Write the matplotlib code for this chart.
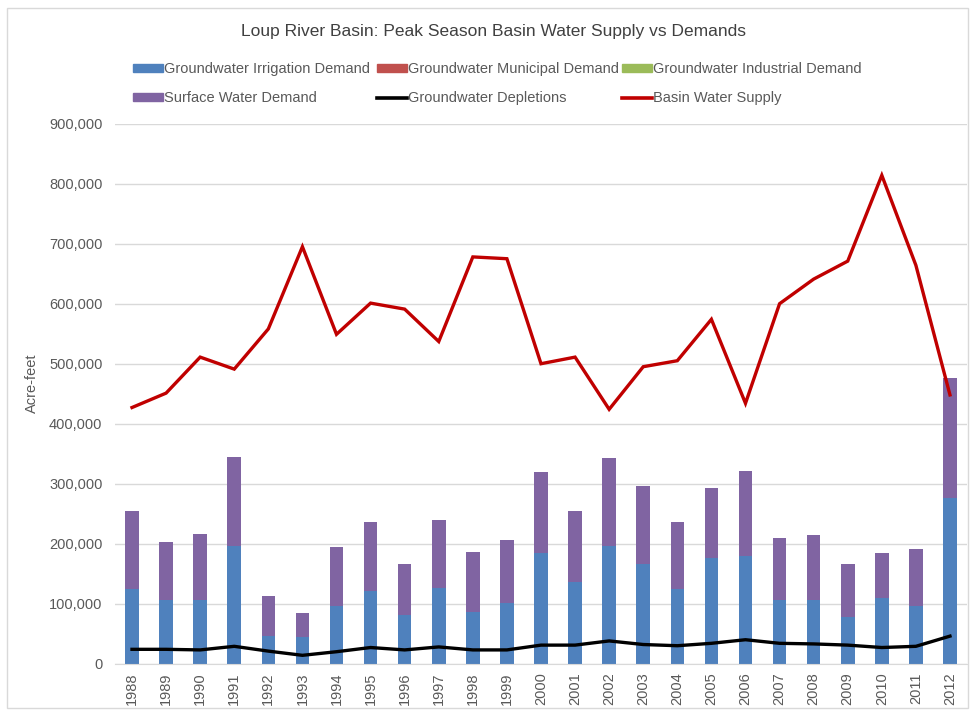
import matplotlib
matplotlib.use("Agg")
import matplotlib.pyplot as plt
from matplotlib.patches import Patch, Rectangle
from matplotlib.lines import Line2D
from matplotlib.ticker import FuncFormatter
import numpy as np

plt.rcParams["font.family"] = ["Liberation Sans", "DejaVu Sans"]

years = list(range(1988, 2013))
gw_irrigation = [124000, 106000, 106000, 196000, 47000, 45000, 97000, 122000, 81000, 127000,
                 86000, 102000, 184000, 136000, 196000, 166000, 124000, 176000, 180000, 106000,
                 106000, 78000, 109000, 96000, 277000]
gw_municipal = [0] * 25
gw_industrial = [0] * 25
surface_total = [255000, 203000, 216000, 344000, 113000, 84000, 194000, 236000, 166000, 240000,
                 186000, 207000, 319000, 255000, 343000, 297000, 237000, 293000, 322000, 210000,
                 215000, 167000, 184000, 192000, 476000]
gw_depletions = [24000, 24000, 23000, 29000, 21000, 14000, 20000, 27000, 23000, 28000,
                 23000, 23000, 31000, 31000, 38000, 32000, 30000, 34000, 40000, 34000,
                 33000, 31000, 27000, 29000, 46000]
basin_supply = [427000, 451000, 511000, 491000, 558000, 695000, 549000, 601000, 591000, 537000,
                678000, 675000, 500000, 511000, 424000, 495000, 505000, 574000, 434000, 600000,
                641000, 671000, 814000, 664000, 448000]

BLUE, RED, GREEN, PURPLE = "#4f81bd", "#c0504d", "#9bbb59", "#8064a2"
SUPPLY, TXT, GRID = "#c00000", "#595959", "#d9d9d9"

x = np.arange(len(years))
surface = np.array(surface_total) - np.array(gw_irrigation)

fig = plt.figure(figsize=(9.71, 7.11), dpi=100)
fig.patches.append(Rectangle((0.007, 0.004), 0.99, 0.985, transform=fig.transFigure,
                             fill=False, edgecolor="#d9d9d9", linewidth=1.0))
ax = fig.add_axes([0.1184, 0.0665, 0.8775, 0.7595])

w = 0.4
b1 = np.array(gw_irrigation)
b2 = b1 + np.array(gw_municipal)
b3 = b2 + np.array(gw_industrial)
ax.bar(x, gw_irrigation, w, color=BLUE, zorder=2)
ax.bar(x, gw_municipal, w, bottom=b1, color=RED, zorder=2)
ax.bar(x, gw_industrial, w, bottom=b2, color=GREEN, zorder=2)
ax.bar(x, surface, w, bottom=b3, color=PURPLE, zorder=2)
ax.plot(x, gw_depletions, color="black", lw=2.4, zorder=3, solid_joinstyle="round")
ax.plot(x, basin_supply, color=SUPPLY, lw=2.4, zorder=3, solid_joinstyle="miter")

ax.set_xlim(-0.5, len(years) - 0.5)
ax.set_ylim(0, 900000)
ax.set_yticks(np.arange(0, 900001, 100000))
ax.yaxis.set_major_formatter(FuncFormatter(lambda v, p: f"{int(v):,}"))
ax.set_xticks(x)
ax.set_xticklabels([str(y) for y in years], rotation=90)
ax.tick_params(axis="both", length=0, colors=TXT, labelsize=10.5)
ax.tick_params(axis="y", pad=9)
ax.tick_params(axis="x", pad=6)
ax.grid(axis="y", color=GRID, lw=1.0, zorder=0)
ax.set_axisbelow(True)
for s in ["top", "right", "left"]:
    ax.spines[s].set_visible(False)
ax.spines["bottom"].set_color(GRID)
ax.set_ylabel("Acre-feet", color=TXT, fontsize=10.5)
ax.yaxis.set_label_coords(-0.089, 0.52)

fig.text(0.508, 0.955, "Loup River Basin: Peak Season Basin Water Supply vs Demands",
         ha="center", va="center", fontsize=12.5, color="#404040")

# legend laid out as three fixed columns, two rows each
columns = [
    (133, [Patch(color=BLUE, label="Groundwater Irrigation Demand"),
           Patch(color=PURPLE, label="Surface Water Demand")]),
    (377, [Patch(color=RED, label="Groundwater Municipal Demand"),
           Line2D([], [], color="black", lw=2.6, label="Groundwater Depletions")]),
    (622, [Patch(color=GREEN, label="Groundwater Industrial Demand"),
           Line2D([], [], color=SUPPLY, lw=2.6, label="Basin Water Supply")]),
]
for px, hs in columns:
    fig.legend(handles=hs, loc="upper left", bbox_to_anchor=(px / 971, 1 - 62 / 711),
               frameon=False, fontsize=10.5, labelcolor=TXT, handlelength=2.05,
               handleheight=0.5, handletextpad=0.08, labelspacing=1.05,
               borderaxespad=0, borderpad=0)

fig.savefig("out.png", dpi=100)
